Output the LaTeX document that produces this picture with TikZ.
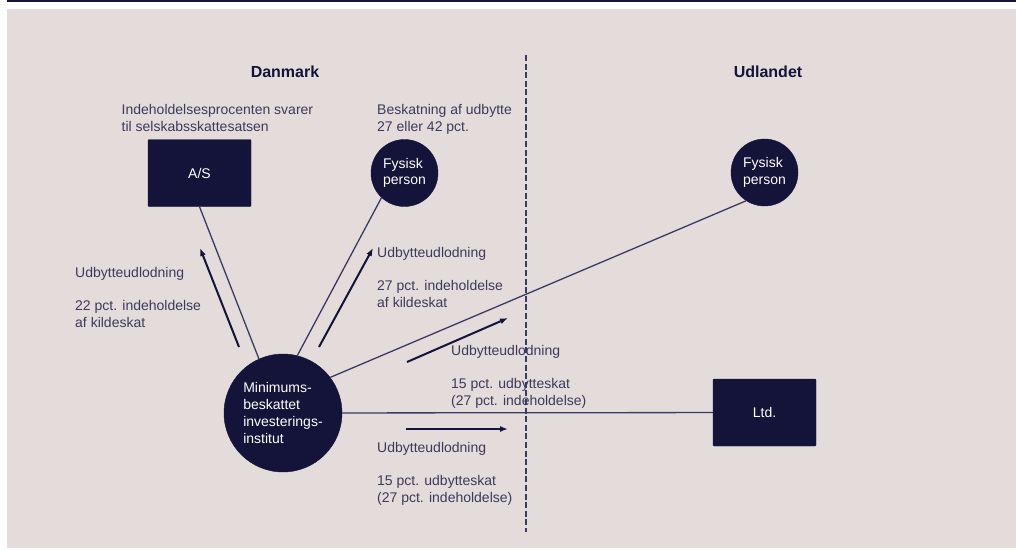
\documentclass[tikz,border=0pt]{standalone}
\usepackage{fontspec}
\setmainfont{Liberation Sans}
\usetikzlibrary{arrows.meta}
\definecolor{navy}{HTML}{141339}
\definecolor{beige}{HTML}{E4DCDA}
\definecolor{inktxt}{HTML}{3A3A5C}
\definecolor{linkcol}{HTML}{3A3A66}
\tikzset{
  entity/.style={fill=navy, draw=navy, text=white, align=left, inner sep=0pt,
    font=\fontsize{14}{16.7}\selectfont},
  boxent/.style={entity, minimum width=103pt, minimum height=67pt, rounded corners=1pt},
  circent/.style={entity, circle, minimum size=#1},
  link/.style={draw=linkcol, line width=1.3pt},
  flow/.style={-{Latex[length=8pt,width=6pt]}, draw=navy, line width=2pt},
  note/.style={text=inktxt, align=left, anchor=north west, inner sep=0pt,
    font=\fontsize{14}{16.8}\selectfont},
  heading/.style={text=navy, font=\bfseries\fontsize{16}{19}\selectfont}
}

\begin{document}
\begin{tikzpicture}[x=1pt, y=-1pt]
		%%%%% START %%%%%
		\useasboundingbox (0, 0) rectangle (1016, 549);
		\fill[beige] (7, 9) rectangle (1016, 548);
		\fill[navy] (7, 0) rectangle (1016, 2);

		% border between the two countries
		\draw[draw=linkcol, line width=2.2pt, dash pattern=on 6pt off 2.6pt] (526, 55) -- (526, 532);
		\node[heading] (dk) at (285, 72) {Danmark};
		\node[heading] (ud) at (768, 72) {Udlandet};

		% entities
		\node[boxent] (as) at (199.5, 173) {A/S};
		\node[circent=67pt] (fdk) at (404.5, 173) {Fysisk\\person};
		\node[circent=67pt] (fud) at (764.5, 172.5) {Fysisk\\person};
		\node[boxent] (ltd) at (764.5, 412.5) {Ltd.};
		\node[circent=118pt] (mbi) at (283, 413) {Minimums-\\beskattet\\investerings-\\institut};

		\draw[link] (as.south) -- (mbi.114);
		\draw[link] (fdk.227) -- (mbi.76);
		\draw[link] (fud.237) -- (mbi.37);
		\draw[link] (mbi) -- (ltd);

		% dividend flows
		\coordinate (f1s) at (239, 347); \coordinate (f1e) at (200, 248);
		\coordinate (f2s) at (319, 347); \coordinate (f2e) at (373, 248);
		\coordinate (f3s) at (407, 362); \coordinate (f3e) at (508, 318);
		\coordinate (f4s) at (406, 429); \coordinate (f4e) at (508, 429);
		\draw[flow] (f1s) -- (f1e);
		\draw[flow] (f2s) -- (f2e);
		\draw[flow] (f3s) -- (f3e);
		\draw[flow] (f4s) -- (f4e);

		% texts
		\node[note] (t1) at (121.5, 104) {Indeholdelsesprocenten svarer\\til selskabsskattesatsen};
		\node[note] (t2) at (377, 104) {Beskatning af udbytte\\27 eller 42 pct.};
		\node[note] (t3) at (75, 267) {Udbytteudlodning\\[16.8pt]22 pct. indeholdelse\\af kildeskat};
		\node[note] (t4) at (377, 247) {Udbytteudlodning\\[16.8pt]27 pct. indeholdelse\\af kildeskat};
		\node[note] (t5) at (451, 345) {Udbytteudlodning\\[16.8pt]15 pct. udbytteskat\\(27 pct. indeholdelse)};
		\node[note] (t6) at (377, 442) {Udbytteudlodning\\[16.8pt]15 pct. udbytteskat\\(27 pct. indeholdelse)};
		%%%%% END %%%%%
\end{tikzpicture}
\end{document}
